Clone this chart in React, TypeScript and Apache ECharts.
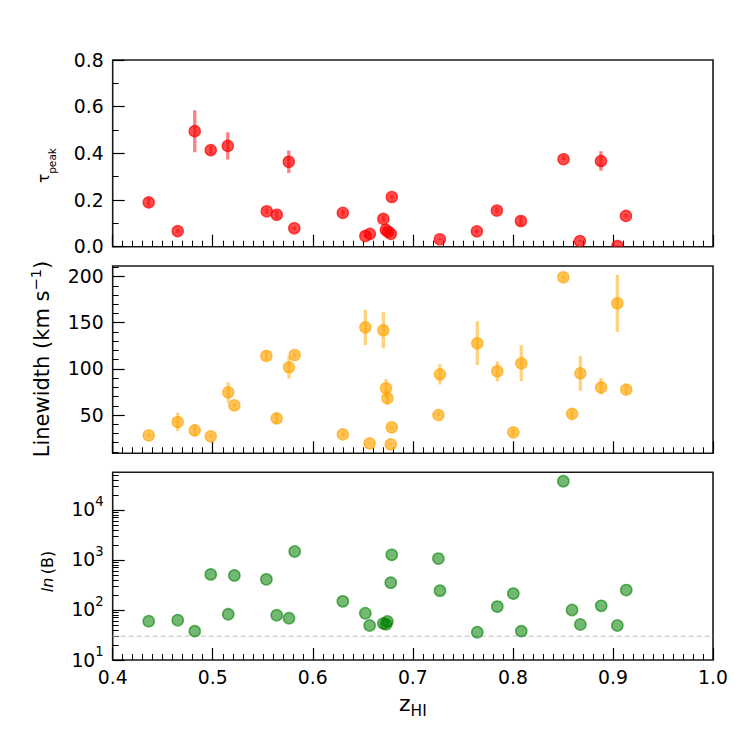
import React, { useEffect, useRef } from "react";
import * as echarts from "echarts";

// ---------- data ----------
const zTau = [0.436, 0.465, 0.482, 0.498, 0.515, 0.554, 0.564, 0.576, 0.5815, 0.63, 0.6525, 0.657, 0.6705, 0.673, 0.6752, 0.678, 0.679, 0.727, 0.764, 0.784, 0.808, 0.8505, 0.867, 0.888, 0.9045, 0.913];
const tauPeak = [0.19, 0.067, 0.495, 0.414, 0.432, 0.152, 0.137, 0.364, 0.079, 0.145, 0.046, 0.055, 0.119, 0.072, 0.064, 0.055, 0.213, 0.032, 0.066, 0.155, 0.11, 0.38, 0.024, 0.367, 0.003, 0.132];
const tauErr = [0.02, 0.008, 0.09, 0.018, 0.058, 0.012, 0.015, 0.048, 0.008, 0.012, 0.006, 0.006, 0.012, 0.006, 0.006, 0.006, 0.01, 0.004, 0.008, 0.012, 0.02, 0.008, 0.004, 0.042, 0.002, 0.008];

const zLw = [0.436, 0.465, 0.482, 0.498, 0.5155, 0.5216, 0.5536, 0.5639, 0.5762, 0.5819, 0.63, 0.6525, 0.6568, 0.6705, 0.6732, 0.6745, 0.6779, 0.6789, 0.7255, 0.7271, 0.7644, 0.7844, 0.8004, 0.8084, 0.8504, 0.8591, 0.8674, 0.8881, 0.9044, 0.9133];
const linewidth = [28, 42.4, 33.4, 26.9, 74.6, 60.5, 114, 46.4, 101.7, 115, 29, 145, 19.3, 141.9, 79, 69.2, 18.2, 36.7, 50.8, 94.1, 127.8, 97.4, 31.2, 106, 199.3, 51.8, 95.2, 81.1, 171.1, 77.9];
const lwErr = [2, 10, 6.5, 2, 11, 2, 5, 6, 12, 2, 2, 19, 1, 19.5, 10, 8, 1, 2, 2, 11, 23.7, 11, 4, 19.5, 2, 5, 19, 9, 31, 5];

const zB = [0.436, 0.465, 0.482, 0.498, 0.5155, 0.5216, 0.5536, 0.5639, 0.5762, 0.5819, 0.63, 0.6525, 0.6568, 0.6705, 0.6732, 0.6745, 0.6779, 0.6789, 0.7255, 0.7271, 0.7644, 0.7844, 0.8004, 0.8084, 0.8504, 0.8591, 0.8674, 0.8881, 0.9044, 0.9133];
const bayes = [59.7, 62.5, 37.8, 515, 82.4, 492, 410, 78.7, 68.6, 1479, 149, 86, 49, 53.7, 52, 61, 352, 1270, 1107, 244, 36, 117, 213, 37.8, 37760, 102, 51.3, 130, 49, 255];
const bThreshold = 30;

// ---------- axes ----------
const xMin = 0.4;
const xMax = 1.0;
const tauMin = 0;
const tauMax = 0.8;
const lwMin = 8.5;
const lwMax = 211.5;
const lwMajorTicks = [50, 100, 150, 200];
const bMin = 10;
const bMax = 56750;
const bMajorExp = [1, 2, 3, 4];

const lwMinorTicks: number[] = [];
for (let v = 10; v <= lwMax; v += 10) if (v % 50 !== 0) lwMinorTicks.push(v);
const bMinorTicks: number[] = [];
for (let n = 1; n <= 4; n++) for (let k = 2; k <= 9; k++) {
  const l = Math.log10(k * Math.pow(10, n));
  if (l <= Math.log10(bMax)) bMinorTicks.push(l);
}

const FONT = "DejaVu Sans";
const FS = 18.8;

const GRID_LEFT = 112.7;
const GRID_W = 600.3;
const grids = [
  { top: 60, height: 186.7 },
  { top: 266, height: 187.3 },
  { top: 472.3, height: 187.7 },
];

function errorRender(color: string) {
  return (params: any, api: any) => {
    const x = api.value(0);
    const y = api.value(1);
    const e = api.value(2);
    const a = api.coord([x, y + e]);
    const b = api.coord([x, y - e]);
    return {
      type: "line",
      shape: { x1: a[0], y1: a[1], x2: b[0], y2: b[1] },
      style: { stroke: color, lineWidth: 3.3 },
    };
  };
}

function markerRender(fill: string, stroke: string, lw: number) {
  return (params: any, api: any) => {
    const c = api.coord([api.value(0), api.value(1)]);
    return {
      type: "circle",
      shape: { cx: c[0], cy: c[1], r: 5.6 },
      style: { fill, stroke, lineWidth: lw },
    };
  };
}

export default function App() {
  const ref = useRef<HTMLDivElement>(null);
  useEffect(() => {
    if (!ref.current) return;
    const chart = echarts.init(ref.current, undefined, { renderer: "svg" });

    const tickStyle = { color: "#000", width: 1.2 };
    const minorStyle = { color: "#000", width: 1 };
    const labelBase = { margin: 9, color: "#000", fontFamily: FONT, fontSize: FS };

    const xAxisBase = (i: number) => ({
      type: "value",
      gridIndex: i,
      min: xMin,
      max: xMax,
      interval: 0.1,
      axisLine: { show: false },
      splitLine: { show: false },
      axisTick: { show: true, inside: true, length: 12, lineStyle: tickStyle },
      minorTick: { show: true, splitNumber: 10, length: 6, lineStyle: minorStyle },
      axisLabel: {
        ...labelBase,
        show: i === 2,
        margin: 8,
        formatter: (v: number) => v.toFixed(1),
      },
    });

    const option: any = {
      animation: false,
      backgroundColor: "#fff",
      grid: grids.map((g) => ({
        left: GRID_LEFT,
        width: GRID_W,
        top: g.top,
        height: g.height,
        show: true,
        borderColor: "#1a1a1a",
        borderWidth: 1.6,
        backgroundColor: "transparent",
      })),
      xAxis: [xAxisBase(0), xAxisBase(1), xAxisBase(2)],
      yAxis: [
        {
          type: "value",
          gridIndex: 0,
          min: tauMin,
          max: tauMax,
          interval: 0.2,
          axisLine: { show: false },
          splitLine: { show: false },
          axisTick: { show: true, inside: true, length: 12, lineStyle: tickStyle },
          minorTick: { show: true, splitNumber: 2, length: 6, lineStyle: minorStyle },
          axisLabel: { ...labelBase, formatter: (v: number) => v.toFixed(1) },
        },
        {
          type: "value",
          gridIndex: 1,
          min: lwMin,
          max: lwMax,
          axisLine: { show: false },
          splitLine: { show: false },
          axisTick: { show: true, inside: true, length: 12, lineStyle: tickStyle, customValues: lwMajorTicks },
          axisLabel: { ...labelBase, customValues: lwMajorTicks, formatter: (v: number) => String(Math.round(v)) },
        },
        {
          type: "value",
          gridIndex: 1,
          min: lwMin,
          max: lwMax,
          position: "left",
          axisLine: { show: false },
          splitLine: { show: false },
          axisLabel: { show: false },
          axisTick: { show: true, inside: true, length: 6, lineStyle: minorStyle, customValues: lwMinorTicks },
        },
        {
          type: "value",
          gridIndex: 2,
          min: Math.log10(bMin),
          max: Math.log10(bMax),
          axisLine: { show: false },
          splitLine: { show: false },
          axisTick: { show: true, inside: true, length: 12, lineStyle: tickStyle, customValues: bMajorExp },
          axisLabel: {
            ...labelBase,
            customValues: bMajorExp,
            formatter: (v: number) => `{b|10}{s|${Math.round(v)}}`,
            rich: {
              b: { fontFamily: FONT, fontSize: FS, color: "#000", verticalAlign: "middle" },
              s: { fontFamily: FONT, fontSize: 13.2, color: "#000", verticalAlign: "middle", padding: [0, 0, 16.6, 0] },
            },
          },
        },
        {
          type: "value",
          gridIndex: 2,
          min: Math.log10(bMin),
          max: Math.log10(bMax),
          position: "left",
          axisLine: { show: false },
          splitLine: { show: false },
          axisLabel: { show: false },
          axisTick: { show: true, inside: true, length: 6, lineStyle: minorStyle, customValues: bMinorTicks },
        },
      ],
      series: [
        {
          type: "custom",
          xAxisIndex: 0,
          yAxisIndex: 0,
          clip: true,
          renderItem: errorRender("rgba(255,0,0,0.5)"),
          data: zTau.map((z, i) => [z, tauPeak[i], tauErr[i]]),
          encode: { x: 0, y: 1 },
          z: 2,
        },
        {
          type: "custom",
          xAxisIndex: 0,
          yAxisIndex: 0,
          clip: true,
          renderItem: markerRender("rgba(255,0,0,0.7)", "rgba(255,0,0,0.7)", 1.3),
          data: zTau.map((z, i) => [z, tauPeak[i]]),
          encode: { x: 0, y: 1 },
          z: 3,
        },
        {
          type: "custom",
          xAxisIndex: 1,
          yAxisIndex: 1,
          clip: true,
          renderItem: errorRender("rgba(255,165,0,0.5)"),
          data: zLw.map((z, i) => [z, linewidth[i], lwErr[i]]),
          encode: { x: 0, y: 1 },
          z: 2,
        },
        {
          type: "custom",
          xAxisIndex: 1,
          yAxisIndex: 1,
          clip: true,
          renderItem: markerRender("rgba(255,165,0,0.65)", "rgba(255,165,0,0.65)", 1.3),
          data: zLw.map((z, i) => [z, linewidth[i]]),
          encode: { x: 0, y: 1 },
          z: 3,
        },
        {
          type: "line",
          xAxisIndex: 2,
          yAxisIndex: 3,
          symbol: "none",
          silent: true,
          lineStyle: { color: "#bdbdbd", width: 1, type: [5, 3] },
          data: [
            [xMin, Math.log10(bThreshold)],
            [xMax, Math.log10(bThreshold)],
          ],
          z: 1,
        },
        {
          type: "custom",
          xAxisIndex: 2,
          yAxisIndex: 3,
          clip: true,
          renderItem: markerRender("rgba(0,128,0,0.55)", "rgba(0,128,0,0.6)", 1.5),
          data: zB.map((z, i) => [z, Math.log10(bayes[i])]),
          encode: { x: 0, y: 1 },
          z: 3,
        },
      ],
      graphic: [
        {
          type: "text",
          x: 44.3,
          y: 165.5,
          rotation: Math.PI / 2,
          style: {
            text: "{a|τ}{s|peak}",
            align: "center",
            verticalAlign: "middle",
            rich: {
              a: { fontFamily: FONT, fontSize: 15.2, fill: "#000", verticalAlign: "middle" },
              s: { fontFamily: FONT, fontSize: 10.6, fill: "#000", verticalAlign: "middle", padding: [14.5, 0, 0, 0] },
            },
          },
        },
        {
          type: "text",
          x: 42,
          y: 359,
          rotation: Math.PI / 2,
          style: {
            text: "{a|Linewidth (km s}{s|−1}{a|)}",
            align: "center",
            verticalAlign: "middle",
            rich: {
              a: { fontFamily: FONT, fontSize: 21, fill: "#000", verticalAlign: "middle" },
              s: { fontFamily: FONT, fontSize: 14.7, fill: "#000", verticalAlign: "middle", padding: [0, 0, 12.5, 0] },
            },
          },
        },
        {
          type: "text",
          x: 47.4,
          y: 571.5,
          rotation: Math.PI / 2,
          style: {
            text: "{i|ln} {a|(B)}",
            align: "center",
            verticalAlign: "middle",
            rich: {
              i: { fontFamily: FONT, fontSize: 16, fontStyle: "italic", fill: "#000", verticalAlign: "middle" },
              a: { fontFamily: FONT, fontSize: 16, fill: "#000", verticalAlign: "middle" },
            },
          },
        },
        {
          type: "text",
          x: GRID_LEFT + GRID_W / 2,
          y: 703.4,
          style: {
            text: "{a|z}{s|HI}",
            align: "center",
            verticalAlign: "middle",
            rich: {
              a: { fontFamily: FONT, fontSize: 22, fill: "#000", verticalAlign: "middle" },
              s: { fontFamily: FONT, fontSize: 15.4, fill: "#000", verticalAlign: "middle", padding: [14.6, 0, 0, 0] },
            },
          },
        },
      ],
    };

    chart.setOption(option);
    return () => chart.dispose();
  }, []);

  return (
    <div
      ref={ref}
      style={{ position: "absolute", left: 0, top: 0, width: 750, height: 750, background: "#fff" }}
    />
  );
}
